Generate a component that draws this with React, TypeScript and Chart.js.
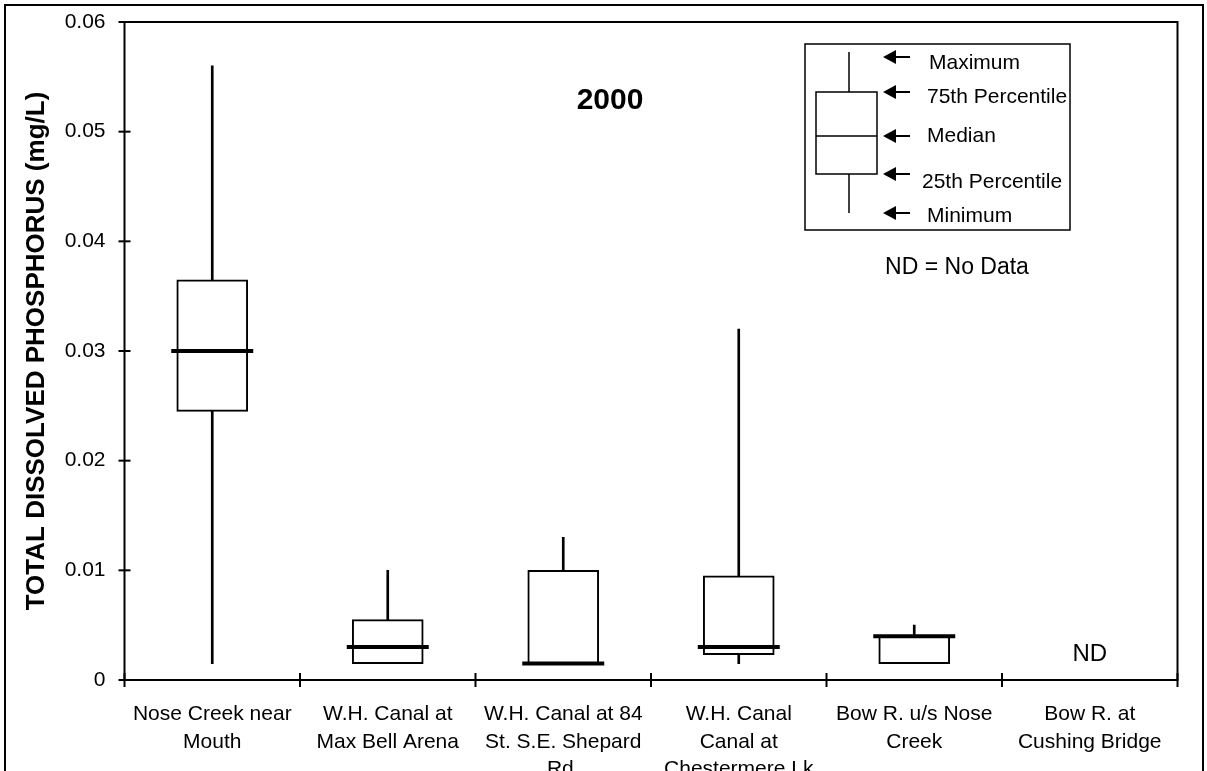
import React, { useEffect, useRef } from "react";
import { Chart, registerables } from "chart.js";

Chart.register(...registerables);

// ---------- data ----------
const categories: string[][] = [
  ["Nose Creek near", "Mouth"],
  ["W.H. Canal at", "Max Bell Arena"],
  ["W.H. Canal at 84", "St. S.E. Shepard", "Rd."],
  ["W.H. Canal", "Canal at", "Chestermere Lk"],
  ["Bow R. u/s Nose", "Creek"],
  ["Bow R. at", "Cushing Bridge"],
];
const minimums: (number | null)[] = [0.0015, 0.0015, 0.0015, 0.0015, 0.0015, null];
const percentile25: (number | null)[] = [0.0245, 0.0015, 0.0015, 0.0023, 0.0015, null];
const medians: (number | null)[] = [0.03, 0.003, 0.0015, 0.003, 0.004, null];
const percentile75: (number | null)[] = [0.0365, 0.0055, 0.01, 0.0095, 0.004, null];
const maximums: (number | null)[] = [0.056, 0.01, 0.013, 0.032, 0.005, null];

const yMin = 0;
const yMax = 0.06;
const yStep = 0.01;
const chartTitle = "2000";
const yAxisTitle = "TOTAL DISSOLVED PHOSPHORUS (mg/L)";
const keyLabels = ["Maximum", "75th Percentile", "Median", "25th Percentile", "Minimum"];
const noDataNote = "ND = No Data";
const noDataLabel = "ND";

const FONT = "'Liberation Sans', Arial, Helvetica, sans-serif";

function line(ctx: CanvasRenderingContext2D, x1: number, y1: number, x2: number, y2: number) {
  ctx.beginPath();
  ctx.moveTo(x1, y1);
  ctx.lineTo(x2, y2);
  ctx.stroke();
}

function arrow(ctx: CanvasRenderingContext2D, tipX: number, yy: number) {
  ctx.beginPath();
  ctx.moveTo(tipX, yy);
  ctx.lineTo(tipX + 13, yy - 7);
  ctx.lineTo(tipX + 13, yy + 7);
  ctx.closePath();
  ctx.fill();
  ctx.lineWidth = 2;
  line(ctx, tipX + 10, yy, tipX + 27, yy);
}

const decorPlugin = {
  id: "decor",
  afterDraw(chart: any) {
    const { ctx, chartArea: a, scales } = chart;
    const x = scales.x;
    const y = scales.y;
    ctx.save();
    ctx.strokeStyle = "#000";
    ctx.fillStyle = "#000";

    // outer frame
    ctx.lineWidth = 2;
    ctx.strokeRect(5, 5, 1198, 900);

    // plot frame
    ctx.lineWidth = 2;
    ctx.strokeRect(a.left, a.top, a.right - a.left, a.bottom - a.top);

    // y tick marks (crossing)
    y.ticks.forEach((_t: any, i: number) => {
      const py = y.getPixelForTick(i);
      line(ctx, a.left - 6, py, a.left + 6, py);
    });
    // x tick marks at category boundaries
    const n = categories.length;
    for (let i = 0; i <= n; i++) {
      let px: number;
      if (i === 0) px = a.left;
      else if (i === n) px = a.right;
      else px = (x.getPixelForValue(i - 1) + x.getPixelForValue(i)) / 2;
      line(ctx, px, a.bottom - 7, px, a.bottom + 7);
    }

    // ND labels
    ctx.font = `24px ${FONT}`;
    ctx.textAlign = "center";
    ctx.textBaseline = "middle";
    medians.forEach((m, i) => {
      if (m === null) ctx.fillText(noDataLabel, x.getPixelForValue(i), y.getPixelForValue(0.0023));
    });

    // title
    ctx.font = `bold 30px ${FONT}`;
    ctx.fillText(chartTitle, 610, 101);

    // key box
    ctx.lineWidth = 1.5;
    ctx.strokeRect(805, 44, 265, 186);
    // mini box plot
    line(ctx, 849, 52, 849, 92);
    line(ctx, 849, 174, 849, 213);
    ctx.strokeRect(816, 92, 61, 82);
    line(ctx, 816, 136, 877, 136);

    const arrowYs = [57, 92, 136, 174, 213];
    const textYs = [63, 97, 136, 182, 216];
    const textXs = [929, 927, 927, 922, 927];
    ctx.font = `21px ${FONT}`;
    ctx.textAlign = "left";
    keyLabels.forEach((lbl, i) => {
      arrow(ctx, 883, arrowYs[i]);
      ctx.fillText(lbl, textXs[i], textYs[i]);
    });

    ctx.textAlign = "center";
    ctx.font = `23px ${FONT}`;
    ctx.fillText(noDataNote, 957, 268);

    ctx.restore();
  },
};

export default function App() {
  const canvasRef = useRef<HTMLCanvasElement | null>(null);

  useEffect(() => {
    const canvas = canvasRef.current;
    if (!canvas) return;
    const whiskers = maximums.map((mx, i) =>
      mx === null || minimums[i] === null ? null : [minimums[i] as number, mx]
    );
    const boxes = percentile75.map((q3, i) =>
      q3 === null || percentile25[i] === null ? null : [percentile25[i] as number, q3]
    );

    const chart = new Chart(canvas, {
      type: "bar",
      data: {
        labels: categories,
        datasets: [
          {
            type: "line",
            label: "Median",
            data: medians,
            showLine: false,
            pointStyle: "line",
            pointRadius: 41,
            pointHoverRadius: 41,
            borderWidth: 4,
            borderColor: "#000",
            backgroundColor: "#000",
            order: 1,
            clip: false,
          } as any,
          {
            type: "bar",
            label: "Box",
            data: boxes as any,
            barThickness: 71,
            grouped: false,
            backgroundColor: "#fff",
            borderColor: "#000",
            borderWidth: 2,
            borderSkipped: false,
            order: 2,
          } as any,
          {
            type: "bar",
            label: "Whisker",
            data: whiskers as any,
            barThickness: 2,
            grouped: false,
            backgroundColor: "#000",
            borderWidth: 0,
            order: 3,
          } as any,
        ],
      },
      options: {
        responsive: false,
        animation: false,
        events: [],
        layout: { autoPadding: false, padding: { left: 0, top: 22, right: 29.5, bottom: 0 } },
        plugins: {
          legend: { display: false },
          tooltip: { enabled: false },
          title: { display: false },
        },
        scales: {
          x: {
            type: "category",
            offset: true,
            grid: { display: false, drawTicks: false },
            border: { display: false },
            ticks: {
              color: "#000",
              font: { family: FONT, size: 21, lineHeight: 1.3 },
              padding: 21,
              maxRotation: 0,
              minRotation: 0,
              autoSkip: false,
            },
            afterFit: (s: any) => {
              s.height = 91;
              s.paddingLeft = 0;
              s.paddingRight = 0;
              s.paddingTop = 0;
              s.paddingBottom = 0;
            },
          },
          y: {
            min: yMin,
            max: yMax,
            grid: { display: false, drawTicks: false },
            border: { display: false },
            ticks: {
              stepSize: yStep,
              color: "#000",
              font: { family: FONT, size: 21 },
              padding: 19,
              callback: (v: any) => (Number(v) === 0 ? "0" : Number(v).toFixed(2)),
            },
            title: {
              display: true,
              text: yAxisTitle,
              color: "#000",
              font: { family: FONT, size: 26, weight: "bold" },
              padding: { top: 21, bottom: 0 },
            },
            afterFit: (s: any) => {
              s.width = 124.5;
              s.paddingLeft = 0;
              s.paddingRight = 0;
              s.paddingTop = 0;
              s.paddingBottom = 0;
            },
          },
        },
      },
      plugins: [decorPlugin],
    });
    return () => chart.destroy();
  }, []);

  return (
    <div style={{ position: "fixed", left: 0, top: 0, width: 1207, height: 771, background: "#fff" }}>
      <canvas ref={canvasRef} width={1207} height={771} style={{ display: "block" }} />
    </div>
  );
}
